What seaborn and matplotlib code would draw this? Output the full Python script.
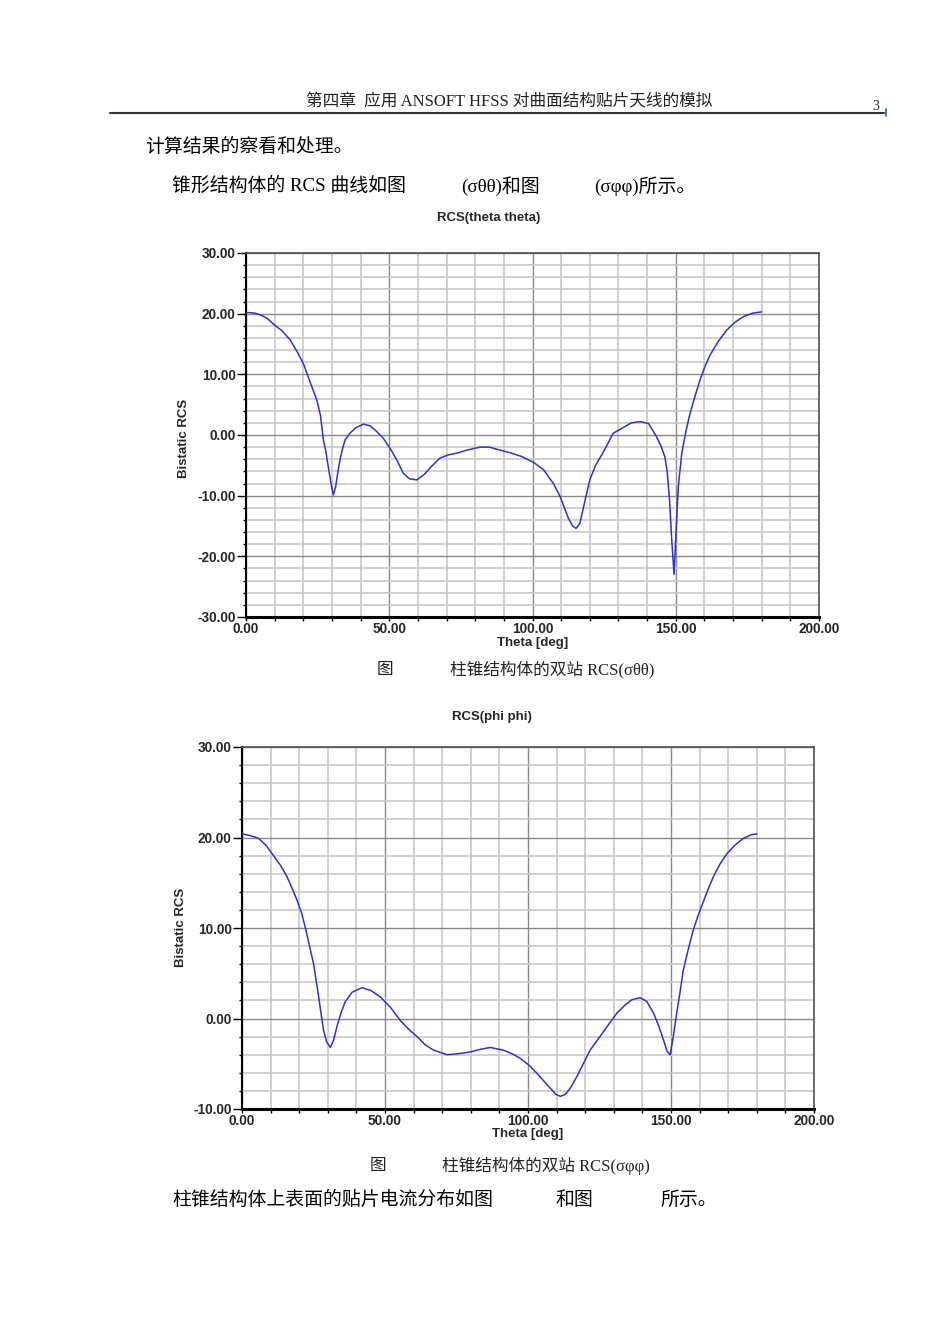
import pandas as pd
import seaborn as sns
import matplotlib.pyplot as plt
from matplotlib.ticker import MultipleLocator, FormatStrFormatter

# RCS(theta theta)
theta_tt = [0, 3, 5, 7.5, 9.5, 12.5, 15.4, 18, 20, 22.3, 24.7, 26, 27, 27.8, 28.7,
            29.6, 30.5, 31.3, 32.1, 32.8, 33.6, 34.6, 36.3, 38.3, 41, 43.3, 45.6,
            48, 50.3, 52.6, 54.9, 57, 59.6, 62, 64.5, 67.7, 70.5, 73.5, 77, 81.7,
            85, 88.7, 92, 96, 100.3, 103.8, 107.3, 109.6, 112.5, 114, 115.2, 116.5,
            118, 120, 122, 124.5, 128.2, 131.6, 134.5, 137.5, 140.5, 143.3, 145,
            146.2, 147, 147.8, 148.6, 149.4, 150.1, 150.9, 152.1, 153.5, 155, 156.8,
            158.5, 160.2, 162, 164.8, 167.8, 170.7, 173.6, 177, 180]
rcs_tt = [20.2, 20.1, 19.8, 19.2, 18.3, 17.2, 15.7, 13.6, 11.8, 8.8, 5.8, 3.2, -0.8,
          -2.5, -5.2, -7.8, -9.9, -8.5, -6.0, -4.1, -2.4, -0.8, 0.3, 1.2, 1.8, 1.5,
          0.6, -0.6, -2.2, -4.1, -6.3, -7.2, -7.4, -6.6, -5.3, -3.8, -3.3, -3.0,
          -2.5, -2.0, -2.0, -2.5, -2.9, -3.5, -4.5, -5.7, -8.0, -10.1, -13.7, -15.0,
          -15.4, -14.6, -11.5, -7.4, -5.0, -3.0, 0.3, 1.2, 2.0, 2.2, 1.9, -0.3, -2.0,
          -3.6, -6.0, -10.5, -17.3, -23.0, -16.0, -8.5, -3.0, 0.5, 3.6, 6.5, 9.1,
          11.3, 13.2, 15.4, 17.3, 18.6, 19.5, 20.1, 20.3]

# RCS(phi phi)
theta_pp = [0, 3, 5.8, 8.5, 11, 13.5, 15.7, 17.5, 19.2, 20.8, 22.1, 23.9, 25, 26.8,
            28.5, 29.6, 30.9, 32, 33.2, 34.6, 36.1, 38.5, 41.9, 45, 48.3, 52, 55.3,
            58, 61.2, 64, 67, 71.7, 75.5, 79.8, 83.5, 86.8, 91.4, 94.5, 97.3, 100.5,
            103.1, 105.5, 107.8, 109.8, 111.3, 113, 115, 117.1, 119.5, 121.7, 124,
            126.4, 128.8, 131.1, 134, 136.5, 139.2, 141.5, 143.9, 145.8, 147.4, 148.6,
            149.7, 150.8, 152, 153.2, 154.3, 156, 157.8, 159.5, 161.3, 163, 164.8,
            167, 169.5, 172.5, 175.3, 178, 180]
rcs_pp = [20.4, 20.2, 19.9, 19.1, 18.0, 16.9, 15.7, 14.4, 13.1, 11.7, 10.1, 7.6, 6.1,
          2.4, -1.3, -2.6, -3.2, -2.4, -0.9, 0.6, 1.85, 2.9, 3.4, 3.1, 2.4, 1.2, -0.2,
          -1.1, -2.0, -2.9, -3.5, -4.0, -3.9, -3.7, -3.4, -3.2, -3.5, -3.9, -4.4,
          -5.2, -6.05, -6.9, -7.7, -8.4, -8.6, -8.4, -7.6, -6.4, -4.9, -3.5, -2.5,
          -1.45, -0.4, 0.6, 1.5, 2.1, 2.3, 1.9, 0.6, -0.9, -2.4, -3.6, -4.0, -2.0,
          0.6, 3.0, 5.35, 7.6, 9.8, 11.4, 12.9, 14.3, 15.65, 17.0, 18.2, 19.2, 19.9,
          20.3, 20.4]

sns.set_style("white")
plt.rcParams['font.family'] = ['Liberation Serif', 'Noto Sans CJK SC']

W, H = 950, 1344
fig = plt.figure(figsize=(W / 100, H / 100), dpi=100)


def px(x, y):
    return x / W, 1 - y / H


def box(l, t, r, b):
    return [l / W, 1 - b / H, (r - l) / W, (b - t) / H]


chart_font = dict(family='Liberation Sans', weight='bold', fontsize=9.5)


def rcs_chart(rect, theta, rcs, ylo):
    ax = fig.add_axes(rect)
    df = pd.DataFrame({'theta': theta, 'rcs': rcs})
    sns.lineplot(data=df, x='theta', y='rcs', ax=ax, color='#3030cc',
                 linewidth=1.1, sort=False, zorder=5)
    ax.set_xlim(0, 200)
    ax.set_ylim(ylo, 30)
    ax.xaxis.set_major_locator(MultipleLocator(50))
    ax.xaxis.set_minor_locator(MultipleLocator(10))
    ax.yaxis.set_major_locator(MultipleLocator(10))
    ax.yaxis.set_minor_locator(MultipleLocator(2))
    ax.xaxis.set_major_formatter(FormatStrFormatter('%.2f'))
    ax.yaxis.set_major_formatter(FormatStrFormatter('%.2f'))
    ax.grid(which='minor', color='#c8c8c8', linewidth=1.2, zorder=0)
    ax.grid(which='major', color='#888888', linewidth=1.0, zorder=1)
    ax.set_axisbelow(True)
    ax.tick_params(axis='y', which='major', direction='out', length=6.5, width=1,
                   pad=1, left=True, color='black')
    ax.tick_params(axis='y', which='minor', direction='out', length=2.2, width=1,
                   left=True, color='black')
    ax.tick_params(axis='x', which='both', direction='out', length=3, width=1,
                   pad=0.5, bottom=True, color='black')
    for lab in ax.get_xticklabels() + ax.get_yticklabels():
        lab.set_fontfamily('Liberation Sans')
        lab.set_fontweight('bold')
        lab.set_fontsize(9.8)
    ax.spines['left'].set_color('black')
    ax.spines['left'].set_linewidth(1.5)
    ax.spines['bottom'].set_color('black')
    ax.spines['bottom'].set_linewidth(2.2)
    for s in ('top', 'right'):
        ax.spines[s].set_color('#505050')
        ax.spines[s].set_linewidth(1.2)
    ax.set_xlabel('')
    ax.set_ylabel('')
    return ax


rcs_chart(box(246, 253, 819, 617), theta_tt, rcs_tt, -30)
rcs_chart(box(242, 747, 814, 1109), theta_pp, rcs_pp, -10)

# chart texts
fig.text(*px(489, 218), 'RCS(theta theta)', ha='center', va='center', **chart_font)
fig.text(*px(184, 438), 'Bistatic RCS', ha='center', va='center', rotation=90, **chart_font)
fig.text(*px(533, 643), 'Theta [deg]', ha='center', va='center', **chart_font)
fig.text(*px(492, 717), 'RCS(phi phi)', ha='center', va='center', **chart_font)
fig.text(*px(181, 927), 'Bistatic RCS', ha='center', va='center', rotation=90, **chart_font)
fig.text(*px(528, 1134), 'Theta [deg]', ha='center', va='center', **chart_font)

# page header
fig.text(*px(509, 102), '第四章  应用 ANSOFT HFSS 对曲面结构贴片天线的模拟',
         ha='center', va='center', fontsize=12, color='#222222')
fig.text(*px(876, 106), '3', ha='center', va='center', fontsize=10)
fig.add_artist(plt.Line2D([110 / W, 884 / W], [1 - 113 / H, 1 - 113 / H],
                          color='#333333', linewidth=1.5))
fig.add_artist(plt.Line2D([886 / W, 886 / W], [1 - 109 / H, 1 - 116 / H],
                          color='#3050c0', linewidth=1.2))

# body text
body = dict(va='center', ha='left', fontsize=13.6, color='black')
fig.text(*px(145, 147), '计算结果的察看和处理。', **body)
fig.text(*px(172, 186), '锥形结构体的 RCS 曲线如图', **body)
fig.text(*px(461, 186), '(σθθ)和图', **body)
fig.text(*px(594, 186), '(σφφ)所示。', **body)

cap = dict(va='center', ha='left', fontsize=12, color='#222222')
fig.text(*px(377, 670), '图', **cap)
fig.text(*px(450, 670), '柱锥结构体的双站 RCS(σθθ)', **cap)
fig.text(*px(370, 1166), '图', **cap)
fig.text(*px(442, 1166), '柱锥结构体的双站 RCS(σφφ)', **cap)

fig.text(*px(172, 1200), '柱锥结构体上表面的贴片电流分布如图', **body)
fig.text(*px(556, 1200), '和图', **body)
fig.text(*px(660, 1200), '所示。', **body)

plt.savefig('out.png', dpi=100)
